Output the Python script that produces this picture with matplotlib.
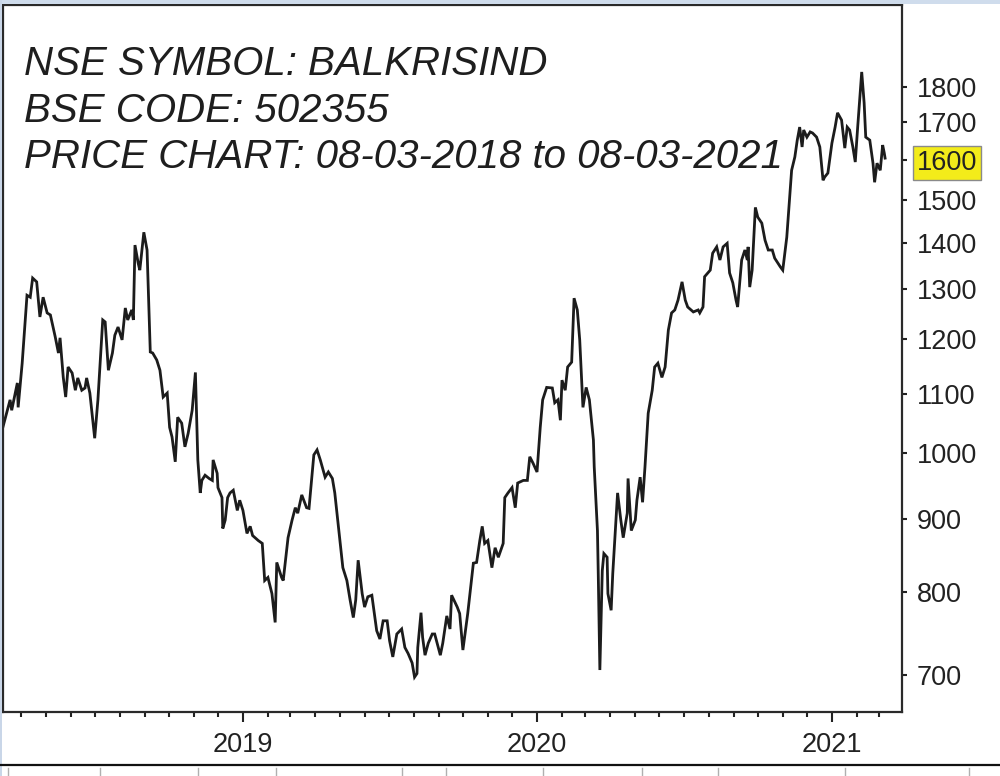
import matplotlib
matplotlib.use('Agg')
import matplotlib.pyplot as plt
import matplotlib.dates as mdates
import matplotlib.ticker as mticker
import pandas as pd
from matplotlib.lines import Line2D
from matplotlib.patches import Rectangle

start_date = pd.Timestamp('2018-03-08')

# day offsets from start_date and closing prices
days_2018 = [1, 10, 12, 19, 20, 25, 31, 35, 38, 43, 47, 51, 56, 60, 66, 70, 72, 76, 79, 82,
             87, 91, 94, 99, 103, 105, 109, 115, 119, 125, 128, 132, 137, 140, 144, 149, 153,
             156, 161, 163, 165, 169, 171, 176, 180, 184, 187, 192, 196, 200, 205, 208, 211,
             215, 218, 223, 227, 231, 236, 240, 243, 246, 248, 252, 257, 261, 262, 267, 268,
             273, 274, 277, 280, 283, 287, 292, 295]
price_2018 = [1042, 1089, 1071, 1119, 1076, 1155, 1288, 1284, 1324, 1316, 1244, 1284, 1252, 1248,
              1205, 1174, 1203, 1129, 1094, 1148, 1137, 1106, 1128, 1106, 1110, 1128, 1101, 1024,
              1089, 1238, 1234, 1142, 1174, 1208, 1224, 1199, 1262, 1238, 1258, 1238, 1396, 1356,
              1341, 1425, 1385, 1176, 1174, 1161, 1142, 1094, 1101, 1042, 1026, 986, 1059, 1049,
              1010, 1032, 1071, 1138, 989, 938, 957, 965, 960, 957, 989, 968, 946, 931, 886, 898,
              931, 938, 942, 912, 927]

days_2019 = [299, 304, 308, 311, 318, 323, 326, 330, 335, 339, 341, 347, 349, 355, 360, 364, 367,
             372, 378, 381, 387, 391, 395, 401, 405, 410, 413, 417, 423, 428, 432, 436, 439, 442,
             447, 450, 454, 459, 465, 469, 473, 478, 481, 485, 490, 496, 500, 504, 509, 512, 515,
             516, 520, 522, 525, 529, 534, 537, 544, 547, 552, 556, 558, 565, 568, 572, 578, 585,
             589, 593, 596, 599, 603, 608, 612, 616, 622, 624, 628, 633, 637, 640, 647, 652, 655,
             659]
price_2019 = [912, 879, 889, 876, 869, 865, 815, 819, 798, 762, 839, 819, 815, 873, 898, 916, 908,
              935, 916, 915, 997, 1005, 989, 962, 970, 960, 938, 894, 832, 815, 790, 768, 790, 842,
              798, 781, 794, 796, 752, 742, 764, 764, 740, 721, 748, 754, 732, 725, 714, 698, 702,
              732, 774, 744, 723, 737, 748, 748, 723, 737, 770, 754, 796, 781, 773, 729, 773, 838,
              839, 869, 889, 865, 869, 832, 859, 846, 865, 931, 938, 946, 916, 953, 957, 957, 994,
              984]

days_2020 = [664, 668, 671, 676, 683, 686, 690, 693, 695, 699, 702, 707, 710, 714, 717, 721, 725,
             729, 734, 735, 739, 740, 742, 745, 747, 751, 752, 756, 758, 761, 764, 768, 771, 776,
             777, 781, 786, 788, 792, 795, 798, 802, 807, 810, 814, 819, 823, 827, 831, 835, 839,
             844, 848, 851, 858, 864, 866, 870, 872, 879, 882, 887, 891, 895, 900, 903, 907, 911,
             913, 918, 922, 925, 926, 928, 931, 935, 938, 943, 947, 951, 956, 959, 966, 969, 974,
             977, 980, 984, 987, 990, 993, 995, 999, 1003, 1006, 1011, 1015, 1019, 1021, 1025]
price_2020 = [970, 1042, 1089, 1111, 1110, 1084, 1089, 1054, 1124, 1106, 1148, 1157, 1282, 1258,
              1199, 1076, 1111, 1089, 1021, 978, 883, 824, 706, 828, 851, 846, 798, 777, 824, 879,
              938, 898, 873, 908, 960, 883, 898, 927, 962, 924, 978, 1066, 1106, 1148, 1155, 1129,
              1148, 1218, 1252, 1258, 1278, 1316, 1278, 1264, 1254, 1258, 1252, 1264, 1327, 1341,
              1378, 1392, 1363, 1392, 1400, 1335, 1314, 1278, 1264, 1363, 1385, 1363, 1392, 1305,
              1341, 1483, 1460, 1446, 1407, 1385, 1385, 1367, 1348, 1341, 1414, 1493, 1574, 1608,
              1652, 1687, 1634, 1679, 1660, 1674, 1671, 1660, 1634, 1549, 1557, 1567]

days_2021 = [1030, 1034, 1037, 1042, 1046, 1049, 1052, 1056, 1059, 1062, 1067, 1070, 1072, 1077,
             1081, 1083, 1086, 1090, 1093, 1095, 1096]
price_2021 = [1644, 1687, 1726, 1706, 1631, 1687, 1679, 1634, 1595, 1687, 1843, 1754, 1660, 1652,
              1592, 1544, 1592, 1574, 1639, 1618, 1605]

title_lines = ["NSE SYMBOL: BALKRISIND", "BSE CODE: 502355",
               "PRICE CHART: 08-03-2018 to 08-03-2021"]
y_ticks = [700, 800, 900, 1000, 1100, 1200, 1300, 1400, 1500, 1600, 1700, 1800]
highlight_tick = 1600

days = days_2018 + days_2019 + days_2020 + days_2021
prices = price_2018 + price_2019 + price_2020 + price_2021
dates = start_date + pd.to_timedelta(days, unit='D')

W, H = 1000, 776
fig = plt.figure(figsize=(W / 100, H / 100), dpi=100)
fig.patch.set_facecolor('white')

ax = fig.add_axes([3 / W, (H - 712) / H, 899 / W, 707 / H])
ax.plot(dates, prices, color='#1c1c1c', lw=2.0, solid_joinstyle='miter')
ax.set_yscale('log')
ax.set_ylim(660, 2052)
ax.set_xlim(start_date + pd.Timedelta(days=1.2), start_date + pd.Timedelta(days=1117))

for s in ax.spines.values():
    s.set_color('#2a2a2a')
    s.set_linewidth(1.6)

ax.yaxis.tick_right()
ax.yaxis.set_major_locator(mticker.FixedLocator(y_ticks))
ax.yaxis.set_major_formatter(mticker.FixedFormatter([str(v) for v in y_ticks]))
ax.yaxis.set_minor_locator(mticker.NullLocator())
ax.tick_params(axis='y', which='major', direction='out', length=3.8, width=1.5,
               pad=7, labelsize=19.5, colors='#222222')

ax.xaxis.set_major_locator(mdates.YearLocator())
ax.xaxis.set_major_formatter(mdates.DateFormatter('%Y'))
ax.xaxis.set_minor_locator(mdates.MonthLocator())
ax.tick_params(axis='x', which='major', direction='out', length=7.5, width=1.5,
               pad=7, labelsize=19.5, colors='#222222')
ax.tick_params(axis='x', which='minor', direction='out', length=3.8, width=1.5,
               colors='#222222')

for lbl in ax.get_xticklabels() + ax.get_yticklabels():
    lbl.set_fontfamily('Liberation Sans')

fig.canvas.draw()
for lbl in ax.get_yticklabels():
    if lbl.get_text() == str(highlight_tick):
        lbl.set_bbox(dict(facecolor='#f3ec1a', edgecolor='#8a8a8a',
                          boxstyle='square,pad=0.15', linewidth=1.0))

baselines = [75, 122, 168]
for line, yb in zip(title_lines, baselines):
    fig.text(24 / W, 1 - yb / H, line, fontsize=29, style='italic',
             fontfamily='Liberation Sans', color='#1e1e1e', va='baseline', ha='left')

# window chrome around the chart
fig.add_artist(Rectangle((0, 1 - 4 / H), 1, 4 / H, transform=fig.transFigure,
                         facecolor='#cfdcec', edgecolor='none'))
fig.add_artist(Rectangle((0, 0), 2 / W, 1, transform=fig.transFigure,
                         facecolor='#c9d6e8', edgecolor='none'))
fig.add_artist(Line2D([0, 1], [1 - 765 / H] * 2, transform=fig.transFigure,
                      color='#111111', lw=1.6))
for xs in [8, 100, 198, 276, 402, 446, 543, 642, 718, 845, 969]:
    fig.add_artist(Line2D([xs / W] * 2, [0, 1 - 768 / H], transform=fig.transFigure,
                          color='#b0b0b0', lw=1.0))

fig.savefig('out.png', dpi=100)
